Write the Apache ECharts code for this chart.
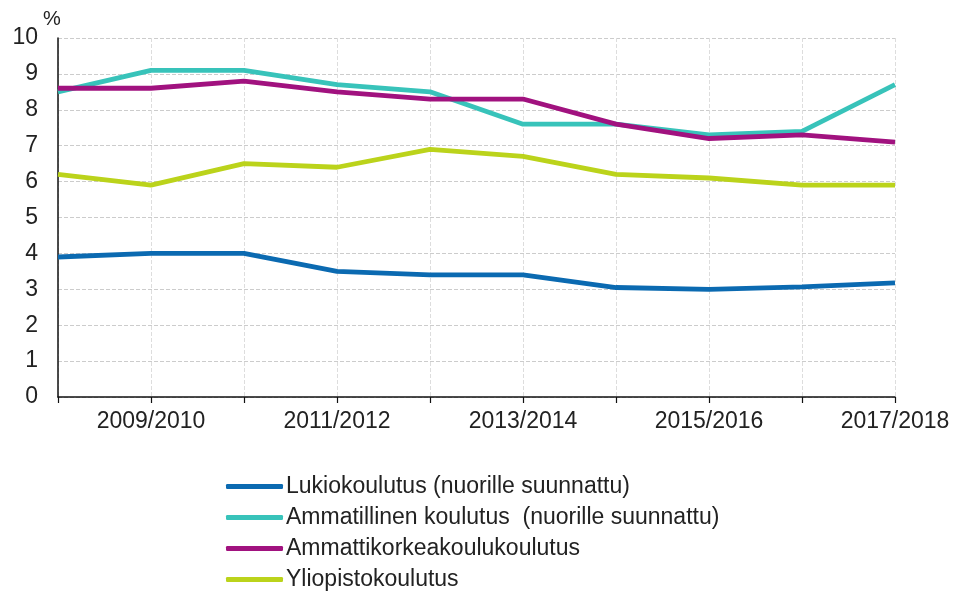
<!DOCTYPE html>
<html><head><meta charset="utf-8">
<script src="https://cdn.jsdelivr.net/npm/echarts@6/dist/echarts.min.js"></script>
<style>html,body{margin:0;padding:0;background:#fff}#c{width:961px;height:591px}</style>
</head><body><div id="c"></div>
<script>
const categories = ['2008/2009','2009/2010','2010/2011','2011/2012','2012/2013','2013/2014','2014/2015','2015/2016','2016/2017','2017/2018'];
const lukio = [3.9,4.0,4.0,3.5,3.4,3.4,3.05,3.0,3.07,3.18];
const ammatillinen = [8.5,9.1,9.1,8.7,8.5,7.6,7.6,7.3,7.4,8.7];
const amk = [8.6,8.6,8.8,8.5,8.3,8.3,7.6,7.2,7.3,7.1];
const yliopisto = [6.2,5.9,6.5,6.4,6.9,6.7,6.2,6.1,5.9,5.9];
const yTicks = [0,1,2,3,4,5,6,7,8,9,10];
const names = ['Lukiokoulutus (nuorille suunnattu)','Ammatillinen koulutus  (nuorille suunnattu)','Ammattikorkeakoulukoulutus','Yliopistokoulutus'];
const colors = ['#0b6ab1','#38c3ba','#a1127f','#bbd31b'];
const font = 'Liberation Sans, Arial, sans-serif';
const chart = echarts.init(document.getElementById('c'));
const mk = (name, data, color) => ({type:'line', name, data, symbol:'none', smooth:false,
  lineStyle:{width:4.8, color}, itemStyle:{color}});
chart.setOption({
  animation:false,
  grid:{left:58, right:66, top:38, bottom:194},
  graphic:[{type:'text', left:43, top:9, style:{text:'%', fontSize:20, fontFamily:font, fill:'#222'}}],
  xAxis:{type:'category', data:categories, boundaryGap:false,
    axisLine:{lineStyle:{color:'#111', width:1.5}},
    axisTick:{show:true, interval:0, length:6, lineStyle:{color:'#111', width:1.2}},
    axisLabel:{interval:(i)=>i%2===1, color:'#222', fontSize:23, fontFamily:font, margin:13},
    splitLine:{show:true, interval:0, lineStyle:{color:'#ddd', type:'dashed'}}},
  yAxis:{type:'value', min:0, max:10, interval:1,
    axisLine:{show:true, lineStyle:{color:'#111', width:1.5}},
    axisTick:{show:false},
    axisLabel:{color:'#222', fontSize:23, fontFamily:font, margin:20, formatter:(v)=>yTicks.includes(v)?String(v):''},
    splitLine:{lineStyle:{color:'#ccc', type:'dashed'}}},
  legend:{orient:'vertical', left:226, top:475, height:150, padding:0, itemWidth:57, itemHeight:5, itemGap:8, icon:'roundRect',
    textStyle:{color:'#222', fontSize:23, fontFamily:font, lineHeight:22, padding:[0,0,0,-2]},
    data:names},
  series:[mk(names[0],lukio,colors[0]), mk(names[1],ammatillinen,colors[1]), mk(names[2],amk,colors[2]), mk(names[3],yliopisto,colors[3])]
});
</script></body></html>
